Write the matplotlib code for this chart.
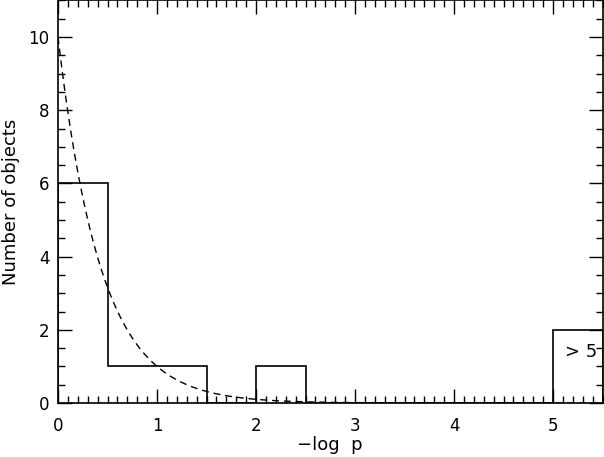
import numpy as np
import matplotlib
matplotlib.use("Agg")
import matplotlib.pyplot as plt
from matplotlib.ticker import MultipleLocator

# Histogram data
bin_edges = [0.0, 0.5, 1.0, 1.5, 2.0, 2.5, 5.0, 5.5]
counts = [6, 1, 1, 0, 1, 0, 2]

# Expected-count model curve: amplitude * 10^(-x)
model_amplitude = 10.0

plt.rcParams['font.family'] = ['DejaVu Sans']

fig = plt.figure(figsize=(6.04, 4.57), dpi=100)
ax = fig.add_axes([58/604, 54/457, 544.5/604, 402.6/457])

ax.stairs(counts, bin_edges, color='black', linewidth=1.2, baseline=0)

xm = np.linspace(0, 5.5, 400)
ax.plot(xm, model_amplitude * 10**(-xm), color='black', linestyle=(0, (5, 3.5)), linewidth=1.0)

ax.text(5.28, 1.4, '> 5', fontsize=13, ha='center', va='center')

ax.set_xlim(0, 5.5)
ax.set_ylim(0, 11)
ax.xaxis.set_major_locator(MultipleLocator(1))
ax.xaxis.set_minor_locator(MultipleLocator(0.1))
ax.yaxis.set_major_locator(MultipleLocator(2))
ax.yaxis.set_minor_locator(MultipleLocator(0.5))
ax.tick_params(which='both', direction='in', top=True, right=True, width=1.0, labelsize=12)
ax.tick_params(axis='x', which='both', pad=10)
ax.tick_params(axis='y', which='both', pad=6)
ax.tick_params(which='major', length=10)
ax.tick_params(which='minor', length=5)
for s in ax.spines.values():
    s.set_linewidth(1.2)

ax.set_xlabel('\u2212log  p', fontsize=13, labelpad=1)
ax.set_ylabel('Number of objects', fontsize=13, labelpad=6)

fig.savefig('out.png', dpi=100)
